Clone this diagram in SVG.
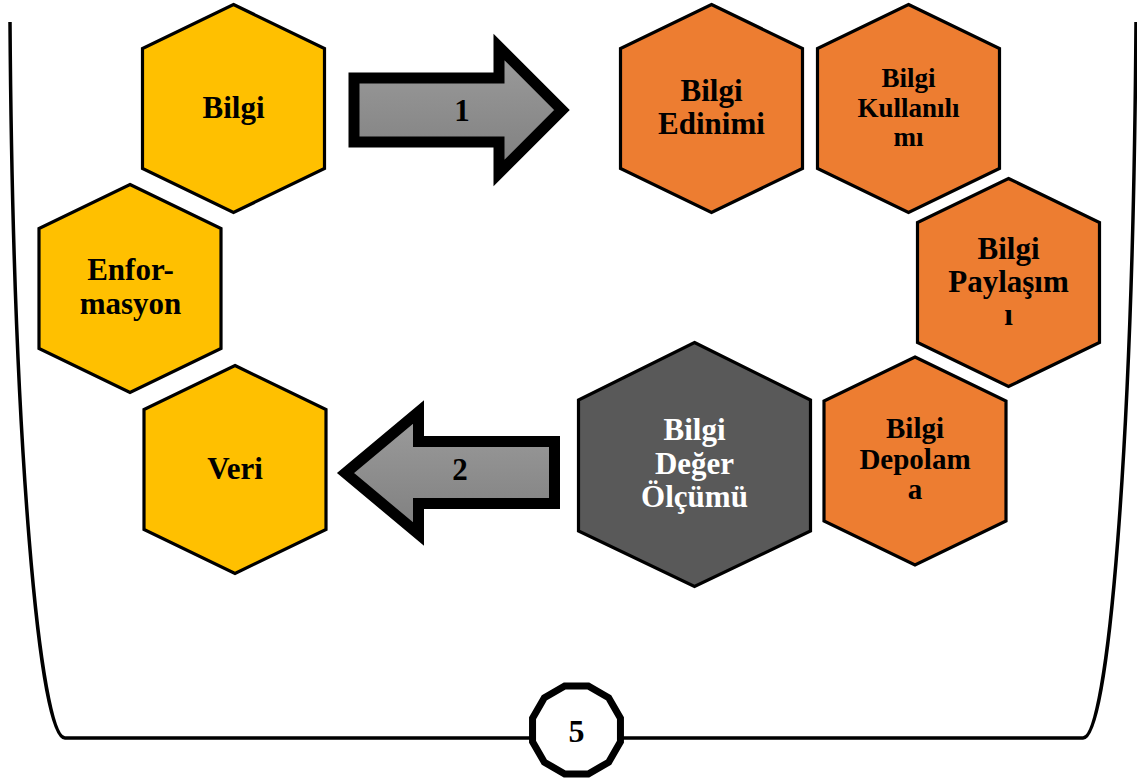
<svg xmlns="http://www.w3.org/2000/svg" xmlns:xlink="http://www.w3.org/1999/xlink" width="1137" height="778" viewBox="0 0 1137 778">
  <defs>
    <style>
      .hex { stroke: #000; stroke-width: 3.2; stroke-linejoin: miter; }
      .yellow { fill: #FFC000; }
      .orange { fill: #ED7D31; }
      .dark { fill: #595959; }
      .lbl { font-family: "Liberation Serif", "Times New Roman", serif; font-weight: bold; font-size: 31px; text-anchor: middle; fill: #000; }
      .white { fill: #fff; }
      .arrow { fill: url(#grayGrad); stroke: #000; stroke-width: 11; stroke-linejoin: miter; }
      .border { fill: none; stroke: #000; stroke-width: 3.5; }
    </style>
    <linearGradient id="grayGrad" x1="0" y1="0" x2="0" y2="1">
      <stop offset="0" stop-color="#9c9c9c"/>
      <stop offset="1" stop-color="#7f7f7f"/>
    </linearGradient>
    <path id="hex" d="M0,-104 L91,-60 L91,60 L0,104 L-91,60 L-91,-60 Z"/>
  </defs>

  <rect width="1137" height="778" fill="#fff"/>

  <g id="frame">
    <path class="border" d="M10,22 C13,450 40,738 65,738 L1083,738 C1108,738 1133,450 1136,22"/>
  </g>

  <g id="connectors">
    <g id="arrow1">
      <path class="arrow" d="M354,78 L499,78 L499,47 L562,110 L499,173 L499,142 L354,142 Z"/>
      <text class="lbl" x="462" y="121" style="font-size:31px">1</text>
    </g>
    <g id="arrow2">
      <path class="arrow" d="M554.5,441.5 L418.5,441.5 L418.5,412 L345.5,473 L418.5,534 L418.5,503.5 L554.5,503.5 Z"/>
      <text class="lbl" x="460" y="480" style="font-size:31px">2</text>
    </g>
  </g>

  <g id="node-bilgi">
    <use xlink:href="#hex" href="#hex" class="hex yellow" x="233.5" y="108.5"/>
    <text class="lbl" x="233.5" y="118">Bilgi</text>
  </g>
  <g id="node-enformasyon">
    <use xlink:href="#hex" href="#hex" class="hex yellow" x="130" y="288.5"/>
    <text class="lbl" x="130.5" y="280">Enfor-</text>
    <text class="lbl" x="130.5" y="314">masyon</text>
  </g>
  <g id="node-veri">
    <use xlink:href="#hex" href="#hex" class="hex yellow" x="235" y="469.5"/>
    <text class="lbl" x="235" y="479">Veri</text>
  </g>
  <g id="node-edinimi">
    <use xlink:href="#hex" href="#hex" class="hex orange" x="711.5" y="108.5"/>
    <text class="lbl" x="711.5" y="101">Bilgi</text>
    <text class="lbl" x="711.5" y="134">Edinimi</text>
  </g>
  <g id="node-kullanilimi">
    <use xlink:href="#hex" href="#hex" class="hex orange" x="908.5" y="108.5"/>
    <text class="lbl" x="908.5" y="87" style="font-size:27px">Bilgi</text>
    <text class="lbl" x="908.5" y="117" style="font-size:27px">Kullanılı</text>
    <text class="lbl" x="908.5" y="146" style="font-size:27px">mı</text>
  </g>
  <g id="node-paylasimi">
    <use xlink:href="#hex" href="#hex" class="hex orange" x="1008.5" y="282.5"/>
    <text class="lbl" x="1008.5" y="259">Bilgi</text>
    <text class="lbl" x="1008.5" y="292">Paylaşım</text>
    <text class="lbl" x="1008.5" y="325">ı</text>
  </g>
  <g id="node-depolama">
    <use xlink:href="#hex" href="#hex" class="hex orange" x="915" y="461"/>
    <text class="lbl" x="915" y="438" style="font-size:29px">Bilgi</text>
    <text class="lbl" x="915" y="469" style="font-size:29px">Depolam</text>
    <text class="lbl" x="915" y="499" style="font-size:29px">a</text>
  </g>
  <g id="node-deger">
    <path class="hex dark" d="M694.5,342.5 L810.5,400 L810.5,531 L694.5,586.5 L578.5,531 L578.5,400 Z"/>
    <text class="lbl white" x="694.5" y="440">Bilgi</text>
    <text class="lbl white" x="694.5" y="474">Değer</text>
    <text class="lbl white" x="694.5" y="507">Ölçümü</text>
  </g>

  <g id="page-number" transform="translate(576.5,730)">
    <polygon points="43.95,11.78 32.17,32.17 11.78,43.95 -11.78,43.95 -32.17,32.17 -43.95,11.78 -43.95,-11.78 -32.17,-32.17 -11.78,-43.95 11.78,-43.95 32.17,-32.17 43.95,-11.78" fill="#fff" stroke="#000" stroke-width="7"/>
    <text class="lbl" x="0" y="12" style="font-size:32px">5</text>
  </g>
</svg>
